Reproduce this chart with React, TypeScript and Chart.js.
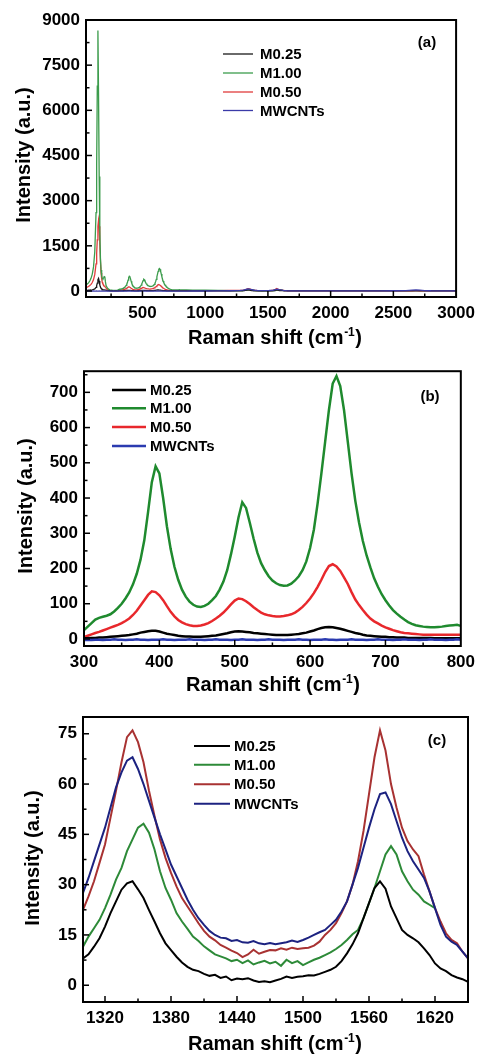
import React, { useEffect, useRef } from 'react';
import { Chart, registerables } from 'chart.js';
Chart.register(...registerables);

const SERIES_NAMES = ['M0.25', 'M1.00', 'M0.50', 'MWCNTs'];

// Raman shift sampling positions (cm-1)
const X_LOW = [50, 60, 70, 80, 90, 100, 110, 120, 130, 135, 140, 145, 150, 155, 160, 165, 170, 175, 180, 185, 190, 195, 200, 205, 210, 220, 230, 240, 250, 260, 270, 280, 290];
const X_B = [
  300, 305, 310, 315, 320, 325, 330, 335, 340, 345,
  350, 355, 360, 365, 370, 375, 380, 385, 390, 395,
  400, 405, 410, 415, 420, 425, 430, 435, 440, 445,
  450, 455, 460, 465, 470, 475, 480, 485, 490, 495,
  500, 505, 510, 515, 520, 525, 530, 535, 540, 545,
  550, 555, 560, 565, 570, 575, 580, 585, 590, 595,
  600, 605, 610, 615, 620, 625, 630, 635, 640, 645,
  650, 655, 660, 665, 670, 675, 680, 685, 690, 695,
  700, 705, 710, 715, 720, 725, 730, 735, 740, 745,
  750, 755, 760, 765, 770, 775, 780, 785, 790, 795, 800,
];
const X_MID = [850, 900, 1000, 1100, 1200, 1250, 1280];
const X_C = [
  1300, 1305, 1310, 1315, 1320, 1325, 1330, 1335, 1340, 1345,
  1350, 1355, 1360, 1365, 1370, 1375, 1380, 1385, 1390, 1395,
  1400, 1405, 1410, 1415, 1420, 1425, 1430, 1435, 1440, 1445,
  1450, 1455, 1460, 1465, 1470, 1475, 1480, 1485, 1490, 1495,
  1500, 1505, 1510, 1515, 1520, 1525, 1530, 1535, 1540, 1545,
  1550, 1555, 1560, 1565, 1570, 1575, 1580, 1585, 1590, 1595,
  1600, 1605, 1610, 1615, 1620, 1625, 1630, 1635, 1640, 1645, 1650,
];
const X_HIGH = [1700, 1800, 1900, 2000, 2200, 2400, 2500, 2600, 2650, 2680, 2710, 2750, 2800, 2900, 3000];

// M0.25
const M025_LOW = [20, 22, 25, 28, 32, 40, 50, 70, 120, 180, 260, 380, 420, 330, 200, 130, 90, 65, 50, 42, 38, 36, 35, 30, 25, 15, 10, 7, 5, 4, 3, 2, 2];
const M025_B = [
  2, 2, 3, 3, 4, 4, 5, 6, 7, 8,
  9, 10, 11, 13, 15, 18, 20, 22, 23, 23,
  21, 18, 15, 13, 11, 9, 8, 7, 7, 6,
  6, 6, 7, 8, 9, 10, 12, 14, 16, 19,
  21, 22, 21, 20, 19, 17, 16, 15, 14, 13,
  12, 11, 11, 11, 11, 12, 13, 14, 16, 18,
  21, 24, 28, 31, 33, 34, 33, 31, 29, 26,
  23, 20, 17, 15, 12, 10, 9, 8, 7, 6,
  6, 5, 5, 4, 4, 4, 3, 3, 3, 3,
  3, 3, 3, 2, 2, 2, 2, 2, 2, 2, 2,
];
const M025_MID = [2, 2, 3, 3, 4, 5, 6];
const M025_C = [
  8, 9.2, 11.5, 14, 17.5, 21.5, 25, 28.5, 30.4, 31,
  28.6, 26, 22.4, 19, 15.5, 12.5, 10.5, 8.5, 6.8, 5.5,
  4.6, 4.2, 3.4, 2.8, 3.1, 2.2, 2.6, 1.5, 2.0, 1.8,
  2.1, 1.4, 1.0, 1.2, 0.9, 1.4, 1.9, 2.6, 2.2, 2.5,
  2.7, 3.0, 2.9, 3.4, 4.0, 4.6, 5.5, 7.2, 9.5, 12.2,
  15.5, 20, 24.5, 29, 31, 28.8, 23.5, 20, 16.5, 15,
  14, 12.8, 11, 9, 6.5, 5, 4.2, 3, 2.3, 1.8, 1,
];
const M025_HIGH = [0.5, 0.3, 0.2, 0.2, 0.2, 0.2, 0.3, 0.5, 0.8, 1, 0.8, 0.5, 0.3, 0.2, 0.2];

// M1.00
const M100_LOW = [200, 230, 270, 330, 420, 560, 800, 1300, 2600, 4200, 6800, 8650, 6500, 3800, 2000, 1100, 700, 500, 420, 400, 430, 480, 470, 300, 180, 100, 60, 40, 30, 25, 22, 22, 23];
const M100_B = [
  25, 35, 45, 55, 60, 63, 66, 70, 78, 88,
  100, 115, 132, 155, 185, 225, 280, 360, 445, 490,
  470, 400, 320, 255, 205, 168, 140, 120, 106, 97,
  92, 91, 94, 100, 110, 122, 140, 163, 195, 240,
  290, 345, 388, 372, 330, 285, 245, 215, 195, 178,
  166, 158, 153, 151, 152, 157, 166, 178, 195, 220,
  258, 310, 385, 470, 560, 650, 725, 746, 718, 650,
  560, 470, 392, 330, 278, 237, 203, 172, 148, 127,
  110, 95, 82, 72, 63, 55, 48, 43, 39, 37,
  35, 34, 33, 33, 34, 35, 37, 38, 39, 40, 37,
];
const M100_MID = [35, 30, 25, 20, 15, 13, 12];
const M100_C = [
  11.5, 14.5, 17, 19.5, 23, 27, 31.5, 35, 40, 43.5,
  47, 48.2, 45.5, 40.5, 34, 29, 25.5, 21.5, 19, 16.8,
  14.5, 13.2, 11.6, 10.4, 9.2, 8.6, 8.0, 7.2, 7.6, 6.6,
  7.4, 6.2, 6.8, 7.3, 6.5, 7.0, 5.8, 7.6, 6.6, 7.2,
  6.0, 6.8, 7.6, 8.2, 9.0, 9.8, 10.8, 12.0, 13.5, 15.2,
  16.5, 20, 24.5, 29, 34, 39, 41.5, 39, 34, 31,
  28.5, 27, 25, 24, 23, null, null, null, null, null, null,
];
const M100_HIGH = [null, null, null, null, null, null, null, null, null, null, null, null, null, null, null];

// M0.50
const M050_LOW = [120, 130, 150, 180, 220, 280, 380, 550, 900, 1250, 1700, 2150, 2350, 2150, 1600, 1000, 600, 400, 280, 230, 200, 170, 150, 120, 100, 60, 35, 20, 12, 8, 6, 5, 5];
const M050_B = [
  5, 9, 13, 17, 20, 24, 28, 32, 36, 40,
  45, 51, 58, 68, 80, 95, 110, 125, 135, 133,
  124, 110, 93, 77, 64, 54, 47, 42, 39, 37,
  37, 38, 41, 45, 51, 58, 66, 75, 86, 98,
  109, 115, 113, 107, 99, 90, 82, 75, 70, 67,
  65, 64, 64, 65, 67, 70, 75, 82, 91, 102,
  115, 130, 148, 168, 190, 207, 212, 206, 193, 175,
  156, 133, 112, 96, 82, 69, 58, 50, 44, 38,
  33, 29, 25, 22, 19, 17, 16, 15, 14, 13,
  12, 12, 12, 12, 12, 12, 12, 12, 12, 12, 12,
];
const M050_MID = [12, 12, 13, 14, 16, 18, 20];
const M050_C = [
  22.5, 26.5, 31, 36.5, 42, 50, 58, 66.5, 74, 76,
  72.5, 66.5, 58, 50.5, 43.5, 38, 33.5, 29.5, 26, 23.5,
  21, 18.5, 16.2, 14.5, 13.4, 12, 11.2, 10.3, 9.6, 8.4,
  9.2, 10.6, 9.4, 10, 10.5, 10.4, 11, 10.6, 11.2, 10.8,
  11, 11.2, 11.8, 13, 15, 16.5, 18.5, 21.5, 25, 30,
  37, 46, 57, 68, 76, 70, 60, 53, 47, 43,
  40.5, 38.5, 33, 28, 23, 19, 15.5, 13.5, 12.5, 10, 8,
];
const M050_HIGH = [6, 5, 5, 4, 4, 4, 5, 6, 8, 9, 8, 6, 5, 4, 4];

// MWCNTs
const MWCNT_LOW = [-2, -2, -1, -2, -2, -2, -1, -2, -2, -1, -2, -2, -2, -1, -2, -2, -2, -1, -2, -2, -2, -1, -2, -2, -2, -1, -2, -2, -2, -2, -1, -2, -2];
const MWCNT_B = [
  -3, -2, -3, -2, -2, -3, -2, -2, -1, -2,
  -2, -3, -2, -2, -1, -2, -2, -3, -2, -2,
  -2, -1, -2, -2, -3, -2, -2, -2, -1, -2,
  -2, -2, -3, -2, -2, -1, -2, -2, -2, -3,
  -2, -2, -1, -2, -2, -2, -3, -2, -2, -1,
  -2, -2, -2, -3, -2, -2, -2, -1, -2, -2,
  -3, -2, -2, -2, -1, -2, -2, -3, -2, -2,
  -2, -1, -2, -2, -2, -3, -2, -2, -1, -2,
  -2, -2, -3, -2, -2, -1, -2, -2, -2, -3,
  -2, -2, -1, -2, -2, -2, -3, -2, -2, -1, -2,
];
const MWCNT_MID = [-2, -1, 0, 3, 7, 13, 20];
const MWCNT_C = [
  27.5, 32, 37, 42, 47, 53, 59, 63.5, 67, 68,
  64.5, 60, 55, 50, 45, 40.5, 36, 32.5, 29, 25.5,
  22.5, 20, 18, 16.2, 15, 14.2, 14, 13.2, 13.5, 12.8,
  12.7, 13.2, 12.5, 12.2, 12.6, 12.2, 12.5, 12.8, 13.3, 12.9,
  13.5, 14.2, 15, 15.8, 16.5, 18, 19.5, 22, 25, 30,
  35, 41, 47, 52.5, 57, 57.5, 54, 49, 44, 40,
  37, 34.5, 32, 28, 23, 18, 14.5, 13, 12, 10, 8,
];
const MWCNT_HIGH = [5, 3, 2, 2, 3, 5, 8, 15, 25, 32, 25, 15, 8, 4, 3];

// tick labels
const X_TICKS_A = [500, 1000, 1500, 2000, 2500, 3000];
const X_MINOR_A = [250, 750, 1250, 1750, 2250, 2750];
const Y_TICKS_A = [0, 1500, 3000, 4500, 6000, 7500, 9000];
const Y_MINOR_A = [750, 2250, 3750, 5250, 6750, 8250];
const X_TICKS_B = [300, 400, 500, 600, 700, 800];
const X_MINOR_B = [350, 450, 550, 650, 750];
const Y_TICKS_B = [0, 100, 200, 300, 400, 500, 600, 700];
const Y_MINOR_B = [50, 150, 250, 350, 450, 550, 650, 750];
const X_TICKS_C = [1320, 1380, 1440, 1500, 1560, 1620];
const X_MINOR_C = [1350, 1410, 1470, 1530, 1590];
const Y_TICKS_C = [0, 15, 30, 45, 60, 75];
const Y_MINOR_C = [7.5, 22.5, 37.5, 52.5, 67.5];

const FONT = '"Liberation Sans", Arial, Helvetica, sans-serif';

const pts = (xs: number[], ys: (number | null)[]) => xs.map((x, i) => ({ x, y: ys[i] }));
const concatX = [...X_LOW, ...X_B, ...X_MID, ...X_C, ...X_HIGH];
const FULL = [
  [...M025_LOW, ...M025_B, ...M025_MID, ...M025_C, ...M025_HIGH],
  [...M100_LOW, ...M100_B, ...M100_MID, ...M100_C, ...M100_HIGH],
  [...M050_LOW, ...M050_B, ...M050_MID, ...M050_C, ...M050_HIGH],
  [...MWCNT_LOW, ...MWCNT_B, ...MWCNT_MID, ...MWCNT_C, ...MWCNT_HIGH],
];

const PANELS = [
  {
    key: 'a', top: 0, h: 355, padTop: 20, padRight: 20, left: 86, xh: 58,
    xMin: 50, xMax: 3000, yMin: -200, yMax: 9000,
    xs: concatX, ys: FULL,
    xTicks: X_TICKS_A, xMinor: X_MINOR_A, yTicks: Y_TICKS_A, yMinor: Y_MINOR_A,
    colors: ['#1a1a1a', '#3c9c4c', '#e03c3c', '#3a3aa8'], lw: 1.3,
    legend: { x1: 223, x2: 253, tx: 260, rows: [54, 73, 92, 110.5] },
    letter: { x: 427, y: 43, t: '(a)' },
    xTitle: { cx: 275, base: 344 }, yTitle: { base: 30, cy: 155 },
  },
  {
    key: 'b', top: 355, h: 345, padTop: 14, padRight: 19, left: 84, xh: 54,
    xMin: 300, xMax: 800, yMin: -20, yMax: 760,
    xs: X_B, ys: [M025_B, M100_B, M050_B, MWCNT_B],
    xTicks: X_TICKS_B, xMinor: X_MINOR_B, yTicks: Y_TICKS_B, yMinor: Y_MINOR_B,
    colors: ['#000000', '#1f8a2e', '#e8282c', '#2b3bb0'], lw: 2.5,
    legend: { x1: 112, x2: 146, tx: 150, rows: [35, 53.3, 72, 91] },
    letter: { x: 430, y: 42, t: '(b)' },
    xTitle: { cx: 273, base: 336 }, yTitle: { base: 32, cy: 151 },
  },
  {
    key: 'c', top: 700, h: 355, padTop: 17, padRight: 13, left: 83, xh: 53,
    xMin: 1300, xMax: 1650, yMin: -5, yMax: 80,
    xs: X_C, ys: [M025_C, M100_C, M050_C, MWCNT_C],
    xTicks: X_TICKS_C, xMinor: X_MINOR_C, yTicks: Y_TICKS_C, yMinor: Y_MINOR_C,
    colors: ['#000000', '#2d8a38', '#a83232', '#1c2280'], lw: 2,
    legend: { x1: 194, x2: 230, tx: 234, rows: [46, 64.7, 84.3, 103.7] },
    letter: { x: 437, y: 41, t: '(c)' },
    xTitle: { cx: 275, base: 350 }, yTitle: { base: 39, cy: 158 },
  },
];

function makeDecor(p: any) {
  return {
    id: 'decor' + p.key,
    afterDraw(chart: any) {
      const { ctx, chartArea: a, scales } = chart;
      const xs = scales.x, ys = scales.y;
      ctx.save();
      ctx.strokeStyle = '#000';
      ctx.lineWidth = 2;
      ctx.strokeRect(a.left, a.top, a.right - a.left, a.bottom - a.top);
      ctx.lineWidth = 1.5;
      const seg = (x1: number, y1: number, x2: number, y2: number) => {
        ctx.beginPath(); ctx.moveTo(x1, y1); ctx.lineTo(x2, y2); ctx.stroke();
      };
      p.xTicks.forEach((v: number) => { const px = xs.getPixelForValue(v); if (px < a.right - 1) seg(px, a.bottom, px, a.bottom - 6); });
      p.xMinor.forEach((v: number) => { const px = xs.getPixelForValue(v); seg(px, a.bottom, px, a.bottom - 3.5); });
      p.yTicks.forEach((v: number) => { const py = ys.getPixelForValue(v); if (py > a.top + 1) seg(a.left, py, a.left + 6, py); });
      p.yMinor.forEach((v: number) => { const py = ys.getPixelForValue(v); if (py > a.top + 1) seg(a.left, py, a.left + 3.5, py); });

      // legend
      ctx.font = `bold 15px ${FONT}`;
      ctx.textBaseline = 'middle';
      ctx.textAlign = 'left';
      SERIES_NAMES.forEach((name, i) => {
        const y = p.legend.rows[i];
        ctx.strokeStyle = p.colors[i];
        ctx.lineWidth = p.lw;
        seg(p.legend.x1, y, p.legend.x2, y);
        ctx.fillStyle = '#000';
        ctx.fillText(name, p.legend.tx, y + 1);
      });

      // panel letter
      ctx.font = `bold 15px ${FONT}`;
      ctx.textAlign = 'center';
      ctx.fillText(p.letter.t, p.letter.x, p.letter.y);

      // x title with superscript
      const main = 'Raman shift (cm';
      const sup = '-1';
      const close = ')';
      ctx.textBaseline = 'alphabetic';
      ctx.textAlign = 'left';
      ctx.font = `bold 20px ${FONT}`;
      const wMain = ctx.measureText(main).width;
      const wClose = ctx.measureText(close).width;
      ctx.font = `bold 12px ${FONT}`;
      const wSup = ctx.measureText(sup).width;
      const total = wMain + wSup + wClose + 1;
      let x0 = p.xTitle.cx - total / 2;
      ctx.font = `bold 20px ${FONT}`;
      ctx.fillText(main, x0, p.xTitle.base);
      ctx.font = `bold 12px ${FONT}`;
      ctx.fillText(sup, x0 + wMain + 0.5, p.xTitle.base - 8);
      ctx.font = `bold 20px ${FONT}`;
      ctx.fillText(close, x0 + wMain + wSup + 1, p.xTitle.base);

      // y title
      ctx.save();
      ctx.translate(p.yTitle.base, p.yTitle.cy);
      ctx.rotate(-Math.PI / 2);
      ctx.textAlign = 'center';
      ctx.font = `bold 20px ${FONT}`;
      ctx.fillText('Intensity (a.u.)', 0, 0);
      ctx.restore();

      ctx.restore();
    },
  };
}

function Panel({ p }: { p: any }) {
  const ref = useRef<HTMLCanvasElement>(null);
  useEffect(() => {
    const canvas = ref.current!;
    const chart = new Chart(canvas, {
      type: 'line',
      data: {
        datasets: SERIES_NAMES.map((name, i) => ({
          label: name,
          data: pts(p.xs, p.ys[i]),
          borderColor: p.colors[i],
          borderWidth: p.lw,
          pointRadius: 0,
          fill: false,
          tension: 0,
          order: i === 3 ? 0 : i + 1,
        })),
      },
      options: {
        responsive: false,
        animation: false,
        events: [],
        layout: { padding: { top: p.padTop, right: p.padRight, left: 0, bottom: 0 } },
        plugins: { legend: { display: false }, tooltip: { enabled: false } },
        scales: {
          x: {
            type: 'linear',
            min: p.xMin,
            max: p.xMax,
            grid: { display: false, drawTicks: false },
            border: { display: false },
            afterBuildTicks: (s: any) => { s.ticks = p.xTicks.map((v: number) => ({ value: v })); },
            afterFit: (s: any) => { s.height = p.xh; },
            ticks: {
              autoSkip: false,
              maxRotation: 0,
              padding: 6,
              color: '#000',
              font: { family: FONT, size: 17, weight: 'bold' },
              callback: (v: any) => String(v),
            },
          },
          y: {
            type: 'linear',
            min: p.yMin,
            max: p.yMax,
            grid: { display: false, drawTicks: false },
            border: { display: false },
            afterBuildTicks: (s: any) => { s.ticks = p.yTicks.map((v: number) => ({ value: v })); },
            afterFit: (s: any) => { s.width = p.left; },
            ticks: {
              autoSkip: false,
              padding: 6,
              color: '#000',
              font: { family: FONT, size: 17, weight: 'bold' },
              callback: (v: any) => String(v),
            },
          },
        },
      },
      plugins: [makeDecor(p)],
    } as any);
    return () => chart.destroy();
  }, []);
  return (
    <canvas
      ref={ref}
      width={481}
      height={p.h}
      style={{ position: 'absolute', left: 0, top: p.top, width: 481, height: p.h, display: 'block' }}
    />
  );
}

export default function App() {
  return (
    <div style={{ position: 'absolute', left: 0, top: 0, width: 481, height: 1055, background: '#fff', overflow: 'hidden' }}>
      {PANELS.map((p) => (
        <Panel key={p.key} p={p} />
      ))}
    </div>
  );
}
